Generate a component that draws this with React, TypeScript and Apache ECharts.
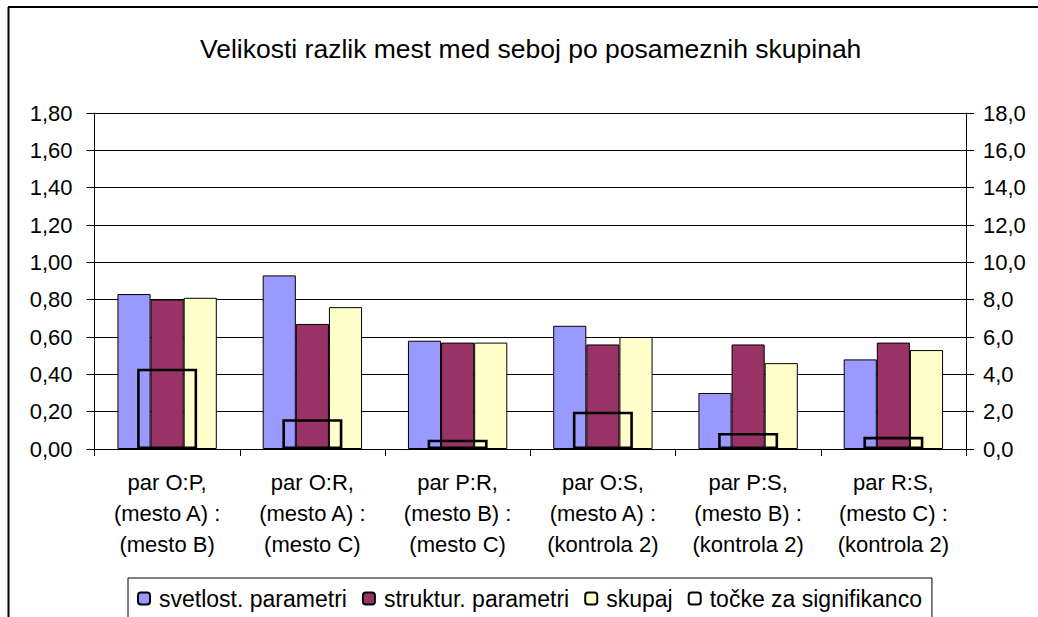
import React, { useEffect, useRef } from "react";
import * as echarts from "echarts";

const categories = [
  "par O:P,\n(mesto A) :\n(mesto B)",
  "par O:R,\n(mesto A) :\n(mesto C)",
  "par P:R,\n(mesto B) :\n(mesto C)",
  "par O:S,\n(mesto A) :\n(kontrola 2)",
  "par P:S,\n(mesto B) :\n(kontrola 2)",
  "par R:S,\n(mesto C) :\n(kontrola 2)",
];
const svetlost = [0.83, 0.93, 0.58, 0.66, 0.3, 0.48];
const struktur = [0.8, 0.67, 0.57, 0.56, 0.56, 0.57];
const skupaj = [0.81, 0.76, 0.57, 0.6, 0.46, 0.53];
const tocke = [4.3, 1.6, 0.5, 2.0, 0.86, 0.65];

const FONT = "'Liberation Sans', Arial, sans-serif";

export default function App() {
  const ref = useRef<HTMLDivElement>(null);
  useEffect(() => {
    if (!ref.current) return;
    const chart = echarts.init(ref.current, undefined, { renderer: "svg" });
    const barStyle = (c: string) => ({ color: c, borderColor: "#000", borderWidth: 1 });
    chart.setOption({
      animation: false,
      backgroundColor: "#fff",
      textStyle: { fontFamily: FONT, color: "#000" },
      title: {
        text: "Velikosti razlik mest med seboj po posameznih skupinah",
        left: 195,
        top: 30,
        textStyle: { fontFamily: FONT, fontSize: 26.5, fontWeight: "normal", color: "#000" },
      },
      legend: {
        left: 128,
        top: 578,
        padding: [9, 10, 9, 9],
        itemWidth: 12,
        itemHeight: 12,
        itemGap: 15,
        borderColor: "#000",
        borderWidth: 1,
        textStyle: { fontFamily: FONT, fontSize: 23, color: "#000", padding: [0, 0, 0, 4] },
        data: [
          { name: "svetlost. parametri" },
          { name: "struktur. parametri" },
          { name: "skupaj" },
          { name: "točke za signifikanco", itemStyle: { color: "#fff", borderColor: "#000", borderWidth: 2 } },
        ],
      },
      grid: { left: 94.5, right: 72, top: 113, bottom: 168 },
      xAxis: [
        {
          type: "category",
          data: categories,
          axisLine: { lineStyle: { color: "#000", width: 1 } },
          axisTick: { show: true, length: 7, lineStyle: { color: "#000" } },
          axisLabel: {
            fontFamily: FONT,
            fontSize: 22,
            color: "#000",
            lineHeight: 31,
            margin: 18,
            interval: 0,
          },
        },
        {
          type: "category",
          data: categories,
          show: false,
        },
      ],
      yAxis: [
        {
          type: "value",
          min: 0,
          max: 1.8,
          interval: 0.2,
          axisLine: { show: true, lineStyle: { color: "#000" } },
          axisTick: { show: true, length: 8, lineStyle: { color: "#000" } },
          splitLine: { show: true, lineStyle: { color: "#000", width: 1 } },
          axisLabel: {
            fontFamily: FONT,
            fontSize: 22,
            color: "#000",
            margin: 22,
            formatter: (v: number) => v.toFixed(2).replace(".", ","),
          },
        },
        {
          type: "value",
          min: 0,
          max: 18,
          interval: 2,
          position: "right",
          axisLine: { show: true, lineStyle: { color: "#000" } },
          axisTick: { show: true, length: 8, lineStyle: { color: "#000" } },
          splitLine: { show: false },
          axisLabel: {
            fontFamily: FONT,
            fontSize: 22,
            color: "#000",
            margin: 17,
            formatter: (v: number) => v.toFixed(1).replace(".", ","),
          },
        },
      ],
      series: [
        {
          name: "svetlost. parametri",
          type: "bar",
          data: svetlost,
          barGap: "0%",
          barCategoryGap: "31.6%",
          itemStyle: barStyle("#9999FF"),
        },
        {
          name: "struktur. parametri",
          type: "bar",
          data: struktur,
          barGap: "0%",
          barCategoryGap: "31.6%",
          itemStyle: barStyle("#993366"),
        },
        {
          name: "skupaj",
          type: "bar",
          data: skupaj,
          barGap: "0%",
          barCategoryGap: "31.6%",
          itemStyle: barStyle("#FFFFCC"),
        },
        {
          name: "točke za signifikanco",
          type: "bar",
          xAxisIndex: 1,
          yAxisIndex: 1,
          data: tocke,
          barWidth: 60,
          z: 5,
          itemStyle: { color: "rgba(0,0,0,0)", borderColor: "#000", borderWidth: 2.6 },
        },
      ],
      graphic: [
        { type: "line", shape: { x1: 8, y1: 7, x2: 1038, y2: 7 }, style: { stroke: "#000", lineWidth: 2 } },
        { type: "line", shape: { x1: 8.5, y1: 7, x2: 8.5, y2: 617 }, style: { stroke: "#000", lineWidth: 2 } },
      ],
    });
    return () => chart.dispose();
  }, []);
  return (
    <div
      ref={ref}
      style={{ position: "fixed", left: 0, top: 0, width: 1038, height: 617 }}
    />
  );
}
